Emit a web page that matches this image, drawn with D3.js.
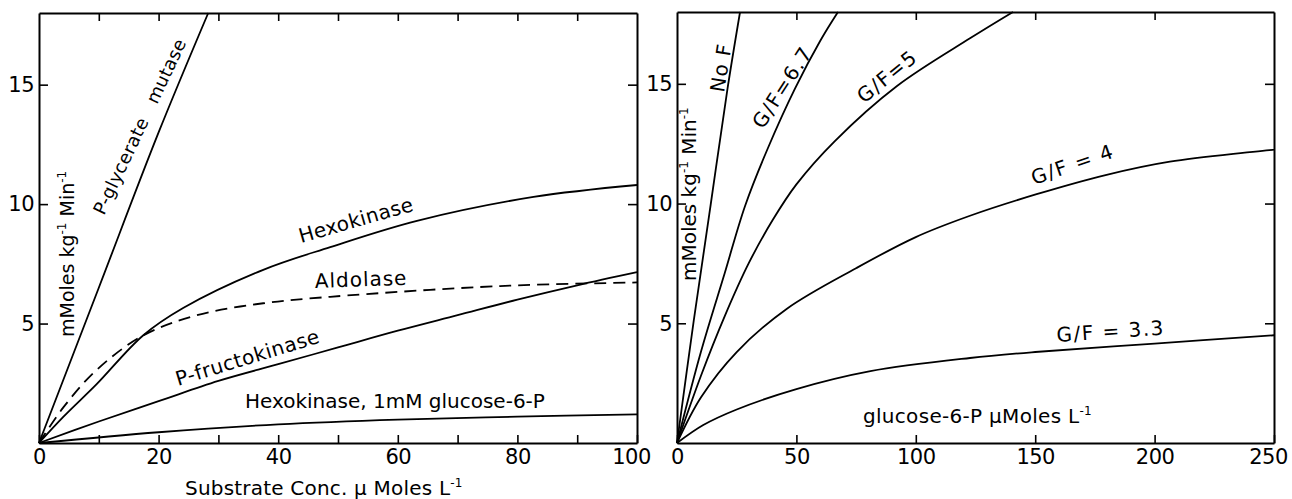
<!DOCTYPE html>
<html>
<head>
<meta charset="utf-8">
<script src="https://cdn.jsdelivr.net/npm/d3@7"></script>
<style>
  body { margin: 0; background: #fff; }
  svg text { font-family: "DejaVu Sans", sans-serif; fill: #000; white-space: pre; }
</style>
</head>
<body>
<svg id="chart" width="1292" height="499"></svg>
<script>

// left panel: substrate conc (umol/L) vs rate
var leftTicksX = [0, 20, 40, 60, 80, 100];
var leftTicksY = [5, 10, 15];
var pglyMutase   = [[0, 0], [10, 6.5], [20, 13.0], [28.3, 18]];
var hexokinase   = [[0, 0], [4.1, 1.1], [9.6, 2.45], [17.4, 4.5], [24.1, 5.65], [37.5, 7.25], [48.7, 8.2], [63.2, 9.3], [82.7, 10.3], [100, 10.8]];
var aldolase     = [[0, 0], [4.1, 1.5], [9.6, 3.05], [17.4, 4.5], [26.4, 5.35], [37.5, 5.85], [48.7, 6.12], [77.1, 6.57], [100, 6.72]];
var pfructo      = [[0, 0], [10, 0.9], [20, 1.75], [30, 2.6], [40, 3.3], [50, 4.0], [60, 4.7], [70, 5.35], [80, 6.0], [90, 6.6], [100, 7.15]];
var hexoG6P      = [[0, 0], [20, 0.45], [40, 0.78], [60, 0.98], [80, 1.1], [100, 1.2]];

// right panel: glucose-6-P (umol/L) vs rate, by G/F ratio
var rightTicksX = [0, 50, 100, 150, 200, 250];
var rightTicksY = [5, 10, 15];
var noF    = [[0, 0], [7, 5.1], [14.1, 9.95], [21, 14.7], [26.4, 18]];
var gf67   = [[0, 0], [10, 3.8], [20, 7.1], [28.5, 9.9], [38, 12.3], [49.4, 14.8], [60, 16.8], [67.4, 18]];
var gf5    = [[0, 0], [10, 2.8], [20, 5.3], [30, 7.5], [40, 9.3], [50, 10.8], [66, 12.6], [92, 14.9], [122.7, 16.9], [140.7, 18]];
var gf4    = [[0, 0], [10, 1.9], [25, 3.8], [45.9, 5.6], [75, 7.3], [100, 8.6], [122.7, 9.49], [150.6, 10.39], [179.9, 11.2], [206.4, 11.75], [250, 12.25]];
var gf33   = [[0, 0], [11, 0.75], [25, 1.4], [50, 2.25], [81, 3.0], [122.7, 3.55], [150, 3.8], [200, 4.15], [250, 4.5]];

var svg = d3.select('#chart');

function supText (sel, parts) {
  // parts: [text, isSup]
  for (var i = 0; i < parts.length; ++i) {
    var p = parts[i];
    var t = sel.append('tspan').text(p[0]);
    if (p[1]) {
      t.attr('font-size', '12px').attr('dy', '-8');
    } else if (i > 0 && parts[i - 1][1]) {
      t.attr('dy', '8');
    }
  }
}

function drawFrame (x, y, xMinor, xTopTicks, yTicks, xFormat) {
  var g = svg.append('g');
  var x0 = x.range()[0], x1 = x.range()[1];
  var y0 = y.range()[0], y1 = y.range()[1];

  g.append('g')
    .attr('class', 'xb')
    .attr('transform', 'translate(0,' + y0 + ')')
    .call(d3.axisBottom(x).tickValues(xMinor).tickSizeInner(-8).tickSizeOuter(0)
      .tickPadding(6).tickFormat(xFormat));
  g.append('g')
    .attr('transform', 'translate(0,' + y1 + ')')
    .call(d3.axisTop(x).tickValues(xTopTicks).tickSizeInner(-8).tickSizeOuter(0).tickFormat(''));
  g.append('g')
    .attr('transform', 'translate(' + x0 + ',0)')
    .call(d3.axisLeft(y).tickValues(yTicks).tickSizeInner(-9).tickSizeOuter(0).tickPadding(5));
  g.append('g')
    .attr('transform', 'translate(' + x1 + ',0)')
    .call(d3.axisRight(y).tickValues(yTicks).tickSizeInner(-9).tickSizeOuter(0).tickFormat(''));

  g.selectAll('.domain').attr('stroke', '#000').attr('stroke-width', 2);
  g.selectAll('.tick line').attr('stroke', '#000').attr('stroke-width', 1.6);
  g.selectAll('.tick text').attr('font-size', '21px').attr('fill', '#000')
    .attr('letter-spacing', '-0.5px')
    .style('font-family', '"DejaVu Sans", sans-serif');
  // last x label sits a bit inside the frame, as in the original
  g.selectAll('.xb .tick text').filter(function(d) { return d === x.domain()[1]; })
    .attr('dx', '-6');
  return g;
}

function drawCurve (x, y, data, dashed) {
  var line = d3.line()
    .x(function(d) { return x(d[0]); })
    .y(function(d) { return y(d[1]); })
    .curve(d3.curveCatmullRom.alpha(0.5));
  svg.append('path')
    .datum(data)
    .attr('d', line)
    .attr('fill', 'none')
    .attr('stroke', '#000')
    .attr('stroke-width', 1.8)
    .attr('stroke-dasharray', dashed ? '12,7' : null);
}

function label (txt, px, py, angle, size, spacing) {
  return svg.append('text')
    .attr('transform', 'translate(' + px + ',' + py + ') rotate(' + angle + ')')
    .attr('font-size', (size || 20) + 'px')
    .attr('letter-spacing', (spacing || 0) + 'px')
    .text(txt);
}

// ---- left panel
var xL = d3.scaleLinear().domain([0, 100]).range([39, 637]);
var yL = d3.scaleLinear().domain([0, 18]).range([443, 13]);
drawFrame(xL, yL, d3.range(0, 101, 10), d3.range(10, 100, 10), leftTicksY,
  function(d) { return leftTicksX.indexOf(d) >= 0 ? d : ''; });

drawCurve(xL, yL, pglyMutase);
drawCurve(xL, yL, hexokinase);
drawCurve(xL, yL, aldolase, true);
drawCurve(xL, yL, pfructo);
drawCurve(xL, yL, hexoG6P);

label('P-glycerate   mutase', 104, 216, -64.5, 18, 0.3);
label('Hexokinase', 301, 243, -16, 20, 0.3);
label('Aldolase', 315, 288, -2, 20, 1);
label('P-fructokinase', 178, 386, -17, 20, 0.5);
label('Hexokinase, 1mM glucose-6-P', 245, 408, 0, 20, 0);

var tl = svg.append('text').attr('x', 185).attr('y', 495).attr('font-size', '20px').attr('letter-spacing', '0.2px');
supText(tl, [['Substrate Conc. \u03bc Moles L', false], ['-1', true]]);

var yl = svg.append('text').attr('transform', 'translate(74,337) rotate(-90)').attr('font-size', '19px');
supText(yl, [['mMoles kg', false], ['-1', true], [' Min', false], ['-1', true]]);

// ---- right panel
var xR = d3.scaleLinear().domain([0, 250]).range([677, 1274]);
var yR = d3.scaleLinear().domain([0, 18]).range([443, 12]);
drawFrame(xR, yR, rightTicksX, [50, 100, 150, 200], rightTicksY,
  function(d) { return d; });

drawCurve(xR, yR, noF);
drawCurve(xR, yR, gf67);
drawCurve(xR, yR, gf5);
drawCurve(xR, yR, gf4);
drawCurve(xR, yR, gf33);

label('No F', 724, 93, -81, 20, 1);
label('G/F=6.7', 763, 130, -57, 20, 1.5);
label('G/F=5', 864, 104, -39, 20, 1.5);
label('G/F = 4', 1034, 185, -19, 20, 1.5);
label('G/F = 3.3', 1057, 342, -4, 20, 1.5);

var gl = svg.append('text').attr('x', 863).attr('y', 423).attr('font-size', '20px').attr('letter-spacing', '0.3px');
supText(gl, [['glucose-6-P \u03bcMoles L', false], ['-1', true]]);

var yr = svg.append('text').attr('transform', 'translate(696,281) rotate(-90)').attr('font-size', '20px');
supText(yr, [['mMoles kg', false], ['-1', true], [' Min', false], ['-1', true]]);

</script>
</body>
</html>
